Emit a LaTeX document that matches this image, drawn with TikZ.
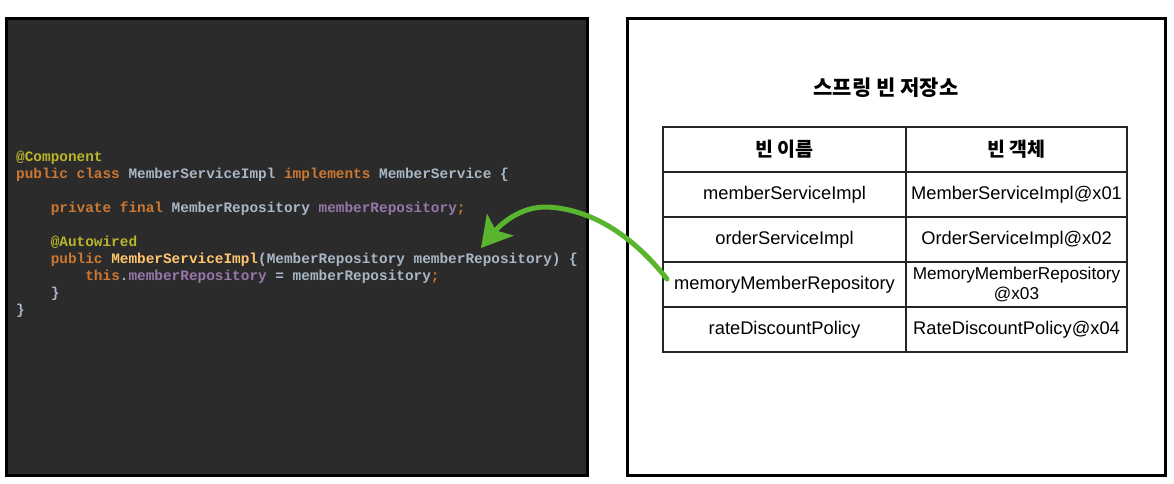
\documentclass[tikz,border=0pt]{standalone}
\usepackage{fontspec}
\setmainfont{Liberation Sans}
\setmonofont{Liberation Mono}
\newfontfamily\kr{Noto Sans CJK KR}
\usetikzlibrary{arrows.meta,calc}
\definecolor{codebg}{HTML}{2B2B2B}
\definecolor{cdef}{HTML}{A9B7C6}
\definecolor{ckw}{HTML}{CC7832}
\definecolor{cann}{HTML}{BBB529}
\definecolor{cfield}{HTML}{9876AA}
\definecolor{cmeth}{HTML}{FFC66D}
\definecolor{arrowgreen}{HTML}{5AB52E}
\tikzset{
  panel/.style={draw=black, line width=3pt},
  codeline/.style={anchor=base west, inner sep=0pt, font=\ttfamily\bfseries\fontsize{14.4}{17}\selectfont, text=cdef},
  cell/.style={draw=black!85, line width=1.2pt, minimum height=45pt, inner sep=0pt, outer sep=0pt, align=center, font=\fontsize{18.3}{21}\selectfont},
  leftcell/.style={cell, minimum width=243pt},
  rightcell/.style={cell, minimum width=221pt},
  headcell/.style={font=\kr\bfseries\fontsize{19.5}{22}\selectfont},
}
\begin{document}
\begin{tikzpicture}[x=1pt,y=-1pt]
\useasboundingbox[fill=white] (0,0) rectangle (1174,484);
% panels
\node[panel, fill=codebg, minimum width=581pt, minimum height=457pt, inner sep=0pt] (codepanel) at (296.5,247) {};
\node[panel, fill=white, minimum width=538pt, minimum height=457pt, inner sep=0pt] (storepanel) at (896.5,247) {};
% code
\node[codeline] (c1) at (16,161) {\textcolor{cann}{@Component}};
\node[codeline] (c2) at (16,178) {\textcolor{ckw}{public class} MemberServiceImpl \textcolor{ckw}{implements} MemberService \{};
\node[codeline] (c3) at (16,212) {\phantom{xxxx}\textcolor{ckw}{private final} MemberRepository \textcolor{cfield}{memberRepository}\textcolor{ckw}{;}};
\node[codeline] (c4) at (16,246) {\phantom{xxxx}\textcolor{cann}{@Autowired}};
\node[codeline] (c5) at (16,263) {\phantom{xxxx}\textcolor{ckw}{public} \textcolor{cmeth}{MemberServiceImpl}(MemberRepository memberRepository) \{};
\node[codeline] (c6) at (16,280) {\phantom{xxxxxxxx}\textcolor{ckw}{this}.\textcolor{cfield}{memberRepository} = memberRepository\textcolor{ckw}{;}};
\node[codeline] (c7) at (16,297) {\phantom{xxxx}\}};
\node[codeline] (c8) at (16,314) {\}};
% title
\node[font=\kr\bfseries\fontsize{21}{24}\selectfont] (title) at (886,88) {스프링 빈 저장소};
% table
\node[leftcell, headcell] (h1) at (784.5,149.5) {빈 이름};
\node[rightcell, headcell, anchor=west] (h2) at (h1.east) {빈 객체};
\node[leftcell, anchor=north] (n1) at (h1.south) {memberServiceImpl};
\node[rightcell, anchor=west] (o1) at (n1.east) {MemberServiceImpl@x01};
\node[leftcell, anchor=north] (n2) at (n1.south) {orderServiceImpl};
\node[rightcell, anchor=west] (o2) at (n2.east) {OrderServiceImpl@x02};
\node[leftcell, anchor=north] (n3) at (n2.south) {memoryMemberRepository};
\node[rightcell, anchor=west, font=\fontsize{17.2}{20.5}\selectfont] (o3) at (n3.east) {MemoryMemberRepository\\@x03};
\node[leftcell, anchor=north] (n4) at (n3.south) {rateDiscountPolicy};
\node[rightcell, anchor=west] (o4) at (n4.east) {RateDiscountPolicy@x04};
% arrow
\coordinate (start) at ($(n3.west)+(4,-5.5)$);
\coordinate (mid) at (548,207);
\coordinate (target) at (481,248);
\draw[arrowgreen, line width=5pt, line cap=round, -{Stealth[length=30pt, width=34pt, inset=7pt]}]
  (start) .. controls (640,245) and (600,210) .. (mid)
          .. controls (520,206) and (500,225) .. (target);
\end{tikzpicture}
\end{document}
